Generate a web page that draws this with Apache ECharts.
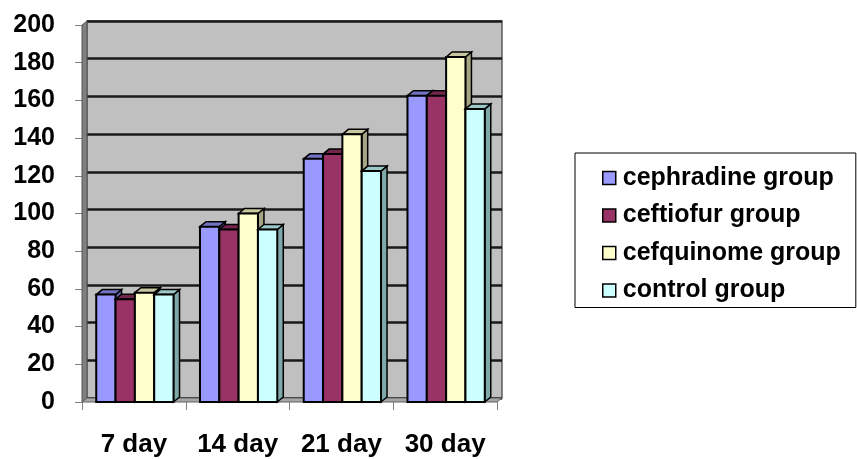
<!DOCTYPE html>
<html>
<head>
<meta charset="utf-8">
<script src="https://cdn.jsdelivr.net/npm/echarts@6/dist/echarts.min.js"></script>
<style>html,body{margin:0;padding:0;background:#fff;}#c{width:857px;height:459px;}</style>
</head>
<body>
<div id="c"></div>
<script>
const categories = ['7 day', '14 day', '21 day', '30 day'];
const seriesNames = ['cephradine group', 'ceftiofur group', 'cefquinome group', 'control group'];
const cephradine = [57, 93, 129, 162.5];
const ceftiofur = [54.5, 91.5, 131.5, 162.5];
const cefquinome = [58, 100, 142, 183];
const control = [57, 91.5, 122.5, 155.5];
const yMin = 0, yMax = 200, yStep = 20;

const seriesValues = [cephradine, ceftiofur, cefquinome, control];
const faceColors = ['#9999FF', '#993366', '#FFFFCC', '#CCFFFF'];
const topColors = ['#7373C4', '#74264C', '#C8C8A0', '#9CC8C8'];
const sideColors = ['#6464AA', '#62203F', '#A6A684', '#7FA8A8'];

const FONT = '"Liberation Sans", Arial, sans-serif';
// layout
const L = 82, R = 857 - 497, T = 25, B = 459 - 402;
const DX = 5, DY = -4;
const BDX = 6, BDY = -5;

function makeRender(si) {
  return function (params, api) {
    const ci = api.value(0), v = api.value(1);
    const base = api.coord([ci, 0]);
    const top = api.coord([ci, v]);
    const band = api.size([1, 0])[0];
    const bw = band * 0.745 / 4;
    const x = base[0] - 2 * bw + si * bw + 1;
    const y0 = base[1], y1 = top[1];
    const stroke = { stroke: '#000', lineWidth: 1.5 };
    return {
      type: 'group',
      children: [
        { type: 'polygon', shape: { points: [[x + bw, y1], [x + bw + BDX, y1 + BDY], [x + bw + BDX, y0 + BDY], [x + bw, y0]] },
          style: Object.assign({ fill: sideColors[si] }, stroke) },
        { type: 'polygon', shape: { points: [[x, y1], [x + BDX, y1 + BDY], [x + bw + BDX, y1 + BDY], [x + bw, y1]] },
          style: Object.assign({ fill: topColors[si] }, stroke) },
        { type: 'rect', shape: { x: x, y: y1, width: bw, height: y0 - y1 },
          style: { fill: faceColors[si], stroke: '#000', lineWidth: 2 } }
      ]
    };
  };
}

const chart = echarts.init(document.getElementById('c'), null, { renderer: 'canvas' });
const series = seriesNames.map((name, si) => ({
  name: name,
  type: 'custom',
  xAxisIndex: 1,
  yAxisIndex: 1,
  itemStyle: { color: faceColors[si] },
  renderItem: makeRender(si),
  encode: { x: 0, y: 1 },
  data: seriesValues[si].map((v, i) => [i, v]),
  clip: false,
  z: 3
}));

chart.setOption({
  animation: false,
  backgroundColor: '#fff',
  grid: [
    { left: L + DX, right: R - DX, top: T + DY, bottom: B - DY, show: true,
      backgroundColor: '#C0C0C0', borderColor: '#5a5a5a', borderWidth: 1.5 },
    { left: L, right: R, top: T, bottom: B }
  ],
  xAxis: [
    { gridIndex: 0, type: 'category', data: categories, show: false },
    { gridIndex: 1, type: 'category', data: categories,
      axisLine: { show: false },
      axisTick: { show: true, length: 8, lineStyle: { color: '#808080', width: 1 } },
      axisLabel: { interval: 0, margin: 30, color: '#000', fontSize: 26, fontWeight: 'bold', fontFamily: FONT },
      splitLine: { show: false } }
  ],
  yAxis: [
    { gridIndex: 0, type: 'value', min: yMin, max: yMax, interval: yStep,
      axisLine: { show: false }, axisTick: { show: false }, axisLabel: { show: false },
      splitLine: { show: true, lineStyle: { color: '#1a1a1a', width: 2.5 } } },
    { gridIndex: 1, type: 'value', min: yMin, max: yMax, interval: yStep,
      axisLine: { show: false },
      axisTick: { show: true, length: 7, lineStyle: { color: '#808080', width: 1 } },
      axisLabel: { margin: 27, color: '#000', fontSize: 25, fontWeight: 'bold', fontFamily: FONT },
      splitLine: { show: false } }
  ],
  legend: {
    orient: 'vertical',
    left: 575, top: 153,
    data: seriesNames,
    icon: 'rect',
    itemWidth: 13, itemHeight: 13,
    itemGap: 11.5,
    padding: [12, 15, 4, 27],
    borderColor: '#000', borderWidth: 1,
    itemStyle: { borderColor: '#000', borderWidth: 1.5 },
    textStyle: { color: '#000', fontSize: 25, fontWeight: 'bold', fontFamily: FONT, lineHeight: 26, padding: [0, 0, 0, 2] }
  },
  graphic: [
    { type: 'polygon', z: 1, shape: { points: [[L, 457 - B + 2], [L, T], [L + DX, T + DY], [L + DX, 459 - B + DY]] },
      style: { fill: '#808080', stroke: '#555', lineWidth: 1 } },
    { type: 'polygon', z: 1, shape: { points: [[L, 459 - B], [857 - R, 459 - B], [857 - R + DX, 459 - B + DY], [L + DX, 459 - B + DY]] },
      style: { fill: '#A6A6A6', stroke: '#606060', lineWidth: 1 } }
  ],
  series: series
});
</script>
</body>
</html>
